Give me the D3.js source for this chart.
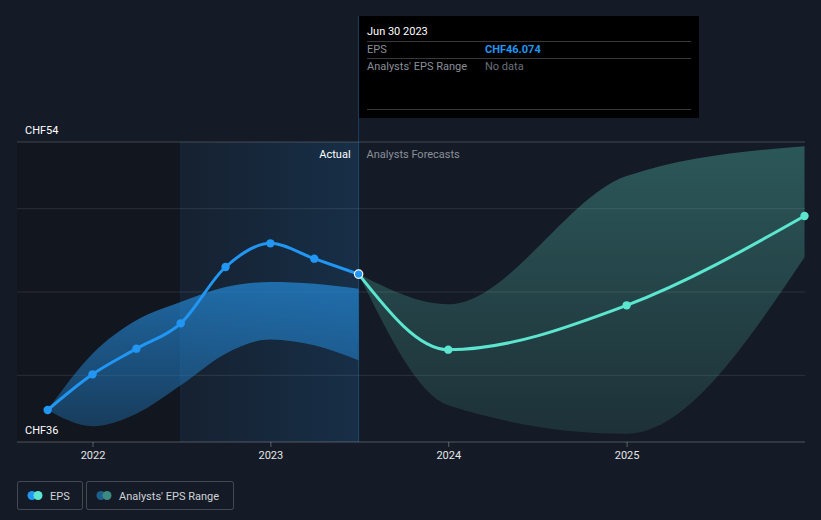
<!DOCTYPE html>
<html><head><meta charset="utf-8">
<script src="https://cdn.jsdelivr.net/npm/d3@7"></script>
<style>
html,body{margin:0;padding:0;background:#151b26;}
svg{display:block;font-family:Roboto,"Noto Sans",sans-serif;}
</style></head>
<body>
<svg id="c" width="821" height="520"></svg>
<script>
// ---- data ----
const actualDates = ["2021-09-30","2021-12-31","2022-03-31","2022-06-30","2022-09-30","2022-12-31","2023-03-31","2023-06-30"];
const actualEPS   = [37.92, 40.06, 41.6, 43.12, 46.5, 47.92, 47.0, 46.074];
const actualLow   = [37.92, 36.95, 37.7, 39.4, 41.3, 42.15, 41.8, 40.9];
const actualHigh  = [37.92, 41.3, 43.3, 44.4, 45.3, 45.6, 45.5, 45.2];
const fcDates = ["2023-06-30","2023-12-31","2024-12-31","2025-12-31"];
const fcEPS   = [46.074, 41.54, 44.2, 49.56];
const fcLow   = [46.074, 38.2, 36.5, 47.08];
const fcHigh  = [46.074, 44.26, 51.96, 53.75];
const yTicks = [40, 45, 50, 54];
const yLabels = [{v:54, t:"CHF54"},{v:36, t:"CHF36"}];
const xTickYears = ["2022","2023","2024","2025"];
const tooltip = {date:"Jun 30 2023", eps:"CHF46.074", range:"No data"};
const legendItems = ["EPS","Analysts' EPS Range"];

const parse = d3.timeParse("%Y-%m-%d");
const svg = d3.select("#c");
const L = 17, R = 805, T = 142, B = 442;
const x = d3.scaleTime().domain([new Date(2022,0,1), new Date(2026,0,1)]).range([93, 805]);
const y = d3.scaleLinear().domain([36, 54]).range([B, T]);

const defs = svg.append("defs");
const g1 = defs.append("linearGradient").attr("id","pastbg").attr("x1",0).attr("x2",1).attr("y1",0).attr("y2",0);
g1.append("stop").attr("offset","0%").attr("stop-color","#2196f3").attr("stop-opacity",0.05);
g1.append("stop").attr("offset","100%").attr("stop-color","#2196f3").attr("stop-opacity",0.16);
const g2 = defs.append("linearGradient").attr("id","blueband").attr("x1",0).attr("x2",0).attr("y1",0).attr("y2",1);
g2.append("stop").attr("offset","0%").attr("stop-color","#2384d0").attr("stop-opacity",0.75);
g2.append("stop").attr("offset","100%").attr("stop-color","#2384d0").attr("stop-opacity",0.35);
const g3 = defs.append("linearGradient").attr("id","greenband").attr("x1",0).attr("x2",0).attr("y1",0).attr("y2",1);
g3.append("stop").attr("offset","0%").attr("stop-color","#5ad2be").attr("stop-opacity",0.33);
g3.append("stop").attr("offset","100%").attr("stop-color","#5ad2be").attr("stop-opacity",0.12);

const cutoff = parse("2023-06-30");
const pastStart = parse("2022-06-30");
svg.append("rect").attr("x",L).attr("y",T).attr("width",x(pastStart)-L).attr("height",B-T).attr("fill","#12161f");
svg.append("rect").attr("x",x(pastStart)).attr("y",T).attr("width",x(cutoff)-x(pastStart)).attr("height",B-T).attr("fill","url(#pastbg)");
svg.append("line").attr("x1",x(pastStart)).attr("x2",x(pastStart)).attr("y1",T).attr("y2",B).attr("stroke","#2196f3").attr("stroke-opacity",0.15);

// grid
svg.append("g").selectAll("line").data(yTicks).join("line")
  .attr("x1",L).attr("x2",R).attr("y1",d=>y(d)).attr("y2",d=>y(d))
  .attr("stroke","#ffffff").attr("stroke-opacity",d=>d===54?0.2:0.1);

// bands
const area = d3.area().curve(d3.curveMonotoneX).x(d=>x(d.date)).y0(d=>y(d.lo)).y1(d=>y(d.hi));
const aData = actualDates.map((d,i)=>({date:parse(d),lo:actualLow[i],hi:actualHigh[i],v:actualEPS[i]}));
const fData = fcDates.map((d,i)=>({date:parse(d),lo:fcLow[i],hi:fcHigh[i],v:fcEPS[i]}));
svg.append("path").datum(aData).attr("d",area).attr("fill","url(#blueband)");
svg.append("path").datum(fData).attr("d",area).attr("fill","url(#greenband)");

// cutoff line
svg.append("line").attr("x1",x(cutoff)).attr("x2",x(cutoff)).attr("y1",16).attr("y2",B).attr("stroke","#2196f3").attr("stroke-opacity",0.3);

// axis
const xAxisG = svg.append("g").attr("transform",`translate(0,${B})`);
xAxisG.append("line").attr("x1",L).attr("x2",R).attr("stroke","#ffffff").attr("stroke-opacity",0.25);
const ticks = xTickYears.map(t=>d3.timeParse("%Y")(t));
xAxisG.selectAll("line.t").data(ticks).join("line").attr("class","t")
  .attr("x1",d=>x(d)).attr("x2",d=>x(d)).attr("y1",0).attr("y2",5).attr("stroke","#ffffff").attr("stroke-opacity",0.3);
xAxisG.selectAll("text").data(ticks).join("text")
  .attr("x",d=>x(d)).attr("y",17).attr("text-anchor","middle").attr("fill","#e6e6e6")
  .attr("font-size",11).text((d,i)=>xTickYears[i]);

// y labels
svg.selectAll("text.yl").data(yLabels).join("text").attr("class","yl")
  .attr("x",25).attr("y",d=>d.v===54?T-8:B-8).attr("fill","#ffffff").attr("font-size",11).text(d=>d.t);

// lines
const line = d3.line().curve(d3.curveMonotoneX).x(d=>x(d.date)).y(d=>y(d.v));
svg.append("path").datum(fData).attr("d",line).attr("fill","none").attr("stroke","#5ce6cf").attr("stroke-width",3);
svg.append("path").datum(aData).attr("d",line).attr("fill","none").attr("stroke","#2196f3").attr("stroke-width",3);
svg.selectAll("circle.f").data(fData.slice(1)).join("circle").attr("class","f")
  .attr("cx",d=>x(d.date)).attr("cy",d=>y(d.v)).attr("r",4.2).attr("fill","#5ce6cf");
svg.selectAll("circle.a").data(aData.slice(0,-1)).join("circle").attr("class","a")
  .attr("cx",d=>x(d.date)).attr("cy",d=>y(d.v)).attr("r",4.2).attr("fill","#2196f3");
const last = aData[aData.length-1];
svg.append("circle").attr("cx",x(last.date)).attr("cy",y(last.v)).attr("r",4.2).attr("fill","#2196f3").attr("stroke","#ffffff").attr("stroke-width",1.2);

// region labels
svg.append("text").attr("x",x(cutoff)-8).attr("y",158).attr("text-anchor","end").attr("fill","#ffffff").attr("font-size",11).text("Actual");
svg.append("text").attr("x",x(cutoff)+8).attr("y",158).attr("fill","#8a8f98").attr("font-size",11).text("Analysts Forecasts");

// tooltip
const tt = svg.append("g");
tt.append("rect").attr("x",359).attr("y",16).attr("width",340).attr("height",102).attr("fill","#000000");
tt.append("text").attr("x",367).attr("y",35).attr("fill","#ffffff").attr("font-size",11).text(tooltip.date);
[41,58,109].forEach(v=>tt.append("line").attr("x1",367).attr("x2",691).attr("y1",v+0.5).attr("y2",v+0.5).attr("stroke","#ffffff").attr("stroke-opacity",0.22));
tt.append("text").attr("x",367).attr("y",53).attr("fill","#8a8f98").attr("font-size",11).text("EPS");
tt.append("text").attr("x",485).attr("y",53).attr("fill","#2196f3").attr("font-size",11).attr("font-weight","bold").text(tooltip.eps);
tt.append("text").attr("x",367).attr("y",70).attr("fill","#8a8f98").attr("font-size",11).text("Analysts' EPS Range");
tt.append("text").attr("x",485).attr("y",70).attr("fill","#6b7079").attr("font-size",11).text(tooltip.range);

// legend
const lg = svg.append("g");
const boxes = [{x:17,w:65},{x:86,w:147}];
const icons = [["#2196f3","#5ce6cf"],["#1f5d8c","#3d8a80"]];
legendItems.forEach((t,i)=>{
  const b = boxes[i];
  lg.append("rect").attr("x",b.x+0.5).attr("y",481.5).attr("width",b.w).attr("height",28).attr("rx",2)
    .attr("fill","none").attr("stroke","#ffffff").attr("stroke-opacity",0.2);
  lg.append("circle").attr("cx",b.x+15).attr("cy",495.5).attr("r",4.5).attr("fill",icons[i][0]);
  lg.append("circle").attr("cx",b.x+21).attr("cy",495.5).attr("r",4.5).attr("fill",icons[i][1]);
  lg.append("text").attr("x",b.x+33).attr("y",499.5).attr("fill","#d0d3d8").attr("font-size",11).text(t);
});
</script>
</body></html>
